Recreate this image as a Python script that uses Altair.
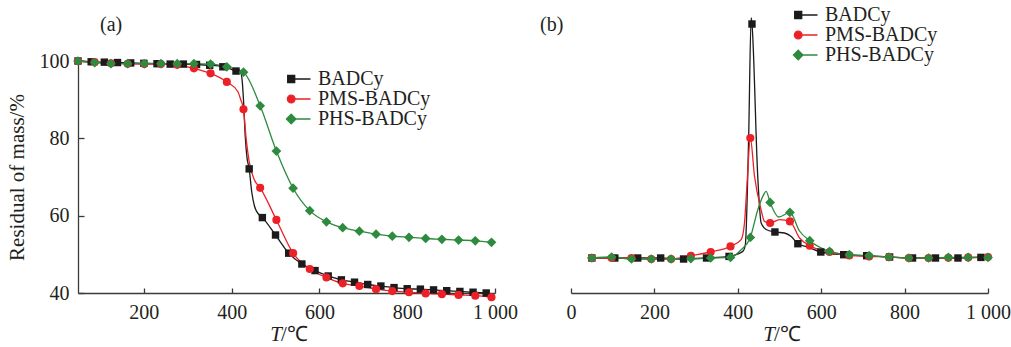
import altair as alt
import pandas as pd

SERIES = ["BADCy", "PMS-BADCy", "PHS-BADCy"]
COLORS = ["#1c1a1b", "#ec2127", "#2d8a3e"]
SHAPES = ["square", "circle", "diamond"]
SIZES = [55, 66, 95]
FONT = "Liberation Serif, Times New Roman, Times, serif"
TEXT = "#231f20"
AXIS = "#3a3a3a"

# ---------------- Panel (a): residual mass (%) vs T ----------------
a_bad_T = [50, 80, 110, 140, 170, 200, 230, 260, 290, 320, 350, 380, 410, 440, 470, 500,
           530, 560, 590, 620, 650, 680, 710, 740, 770, 800, 830, 860, 890, 920, 950, 980]
a_bad_v = [100.0, 99.8, 99.7, 99.6, 99.5, 99.4, 99.3, 99.2, 99.2, 99.1, 98.9, 98.5, 97.4, 72.1, 59.5, 55.0,
           50.3, 47.5, 45.8, 44.4, 43.4, 42.8, 42.2, 41.8, 41.4, 41.1, 41.0, 40.8, 40.6, 40.4, 40.2, 40.0]
a_bad_line_T = [421, 424, 427, 431, 435, 446, 452, 462]
a_bad_line_v = [96.8, 95.0, 90.0, 80.5, 75.0, 66.0, 62.5, 60.3]

a_T = [50, 88, 125, 163, 201, 239, 276, 314, 352, 389, 427, 465, 502,
       540, 578, 616, 653, 691, 729, 766, 804, 842, 879, 917, 955, 992]
a_pms_v = [100.0, 99.7, 99.4, 99.3, 99.2, 99.2, 99.0, 98.1, 96.8, 94.6, 87.5, 67.2, 58.9,
           50.3, 46.2, 44.0, 42.5, 41.8, 41.0, 40.5, 40.2, 39.9, 39.7, 39.5, 39.3, 38.9]
a_pms_line_T = [414, 421, 433, 440, 452]
a_pms_line_v = [92.1, 89.9, 80.0, 74.0, 69.2]
a_phs_v = [100.0, 99.6, 99.3, 99.3, 99.3, 99.3, 99.3, 99.3, 99.2, 98.5, 97.1, 88.4, 76.7,
           67.1, 61.3, 58.4, 56.9, 56.0, 55.2, 54.7, 54.4, 54.1, 53.9, 53.7, 53.5, 53.1]

# ---------------- Panel (b): DTG (arbitrary units) vs T ----------------
b_bad_T = [50, 105, 160, 215, 270, 325, 379, 434, 489, 544, 599, 654, 709, 764, 819, 874, 928, 983]
b_bad_v = [0, 0, 0, 0, -0.1, 0, 0.16, 23.4, 2.6, 1.43, 0.6, 0.33, 0.23, 0.1, 0, 0, 0, 0.06]
b_bad_line_T = [412, 418, 426, 432, 448, 456, 468, 512, 528, 568]
b_bad_line_v = [0.66, 1.3, 12.0, 24.0, 8.0, 3.5, 2.85, 2.5, 2.15, 1.1]

b_T = [50, 97.5, 145, 192.5, 240, 287.5, 335, 382.5, 430, 477.5, 525,
       572.5, 620, 667.5, 715, 762.5, 810, 857.5, 905, 952.5, 1000]
b_pms_v = [0, 0, 0, -0.1, -0.1, 0.23, 0.6, 1.16, 12.0, 3.5, 3.66,
           1.23, 0.6, 0.26, 0.16, 0.1, 0, 0, 0.03, 0.06, 0.1]
b_pms_line_T = [408, 416, 423, 440, 456, 464, 500, 548]
b_pms_line_v = [1.83, 3.5, 8.0, 8.2, 4.8, 3.66, 3.83, 2.0]
b_phs_v = [0, 0.1, -0.1, -0.1, -0.1, -0.07, 0, 0.06, 2.06, 5.56, 4.56,
           1.73, 0.66, 0.33, 0.23, 0.1, 0, 0, 0.06, 0.06, 0.06]
b_phs_line_T = [408, 448, 460, 468, 498, 548]
b_phs_line_v = [0.83, 4.83, 6.16, 6.66, 4.1, 2.7]

# legend symbols: line with the series marker at its left end
LEG_PATHS = [
    "M-2.3,0L2.3,0M-2.26,-0.7L-0.86,-0.7L-0.86,0.7L-2.26,0.7Z",
    "M-2.3,0L2.3,0M-0.8,0A0.76,0.76 0 1,1 -2.32,0A0.76,0.76 0 1,1 -0.8,0Z",
    "M-2.3,0L2.3,0M-1.56,-0.95L-0.61,0L-1.56,0.95L-2.51,0Z",
]


def pick(values):
    return ("datum.value === '%s' ? '%s' : datum.value === '%s' ? '%s' : '%s'"
            % (SERIES[0], values[0], SERIES[1], values[1], values[2]))


def frame(T, v, s):
    return pd.DataFrame({"T": T, "v": v, "series": s})


def line_frame(markers_T, markers_v, extra_T, extra_v, s):
    df = pd.concat([frame(markers_T, markers_v, s), frame(extra_T, extra_v, s)])
    return df.sort_values("T").reset_index(drop=True)


def panel(series_markers, series_lines, xdom, xvals, ydom, ytitle, label, label_x,
          legend_x, legend_y, show_y):
    xenc = alt.X("T:Q", scale=alt.Scale(domain=xdom, nice=False, zero=False),
                 axis=alt.Axis(values=xvals, title=None, grid=False,
                               labelExpr="datum.value >= 1000 ? '1 000' : format(datum.value, 'd')",
                               tickSize=alt.ExprRef(expr="-5"), labelPadding=14,
                               labelFlush=False))
    if show_y:
        yaxis = alt.Axis(values=[40, 60, 80, 100], title=ytitle, grid=False,
                         tickSize=alt.ExprRef(expr="-6"), labelPadding=15,
                         titlePadding=12, titleFont=FONT, titleFontSize=21,
                         titleFontWeight="normal", titleColor=TEXT)
    else:
        yaxis = None
    yenc = alt.Y("v:Q", scale=alt.Scale(domain=ydom, nice=False, zero=False), axis=yaxis)

    leg = alt.Legend(
        title=None, orient="none", legendX=legend_x, legendY=legend_y,
        labelFont=FONT, labelFontSize=20, labelColor=TEXT, symbolSize=100,
        symbolStrokeWidth=1.3, rowPadding=0, labelOffset=9, padding=0,
        symbolType=alt.ExprRef(expr=pick(LEG_PATHS)),
        symbolFillColor=alt.ExprRef(expr=pick(COLORS)),
        symbolStrokeColor=alt.ExprRef(expr=pick(COLORS)),
        symbolOpacity=1)

    lines = pd.concat(series_lines)
    layers = [
        alt.Chart(lines).mark_line(interpolate="monotone", strokeWidth=1.3).encode(
            x=xenc, y=yenc,
            color=alt.Color("series:N", scale=alt.Scale(domain=SERIES, range=COLORS), legend=leg),
            detail="series:N")
    ]
    for i, s in enumerate(SERIES):
        layers.append(
            alt.Chart(series_markers[i]).mark_point(filled=True, shape=SHAPES[i], size=SIZES[i],
                                                     color=COLORS[i], opacity=1).encode(x=xenc, y=yenc))
    # panel label
    layers.append(alt.Chart(pd.DataFrame({"t": [label]})).mark_text(
        font=FONT, fontSize=20, align="left", baseline="alphabetic", color=TEXT
    ).encode(x=alt.value(label_x), y=alt.value(-30), text="t:N"))
    # x-axis title "T/℃" with italic T
    layers.append(alt.Chart(pd.DataFrame({"t": ["T"]})).mark_text(
        font=FONT, fontSize=21, fontStyle="italic", align="right", baseline="alphabetic",
        color=TEXT).encode(x=alt.value(204), y=alt.value(280), text="t:N"))
    layers.append(alt.Chart(pd.DataFrame({"t": ["/℃"]})).mark_text(
        font=FONT, fontSize=21, align="left", baseline="alphabetic",
        color=TEXT).encode(x=alt.value(203), y=alt.value(280), text="t:N"))
    return alt.layer(*layers).properties(width=417, height=232)


pa = panel(
    [frame(a_bad_T, a_bad_v, SERIES[0]), frame(a_T, a_pms_v, SERIES[1]), frame(a_T, a_phs_v, SERIES[2])],
    [line_frame(a_bad_T, a_bad_v, a_bad_line_T, a_bad_line_v, SERIES[0]),
     line_frame(a_T, a_pms_v, a_pms_line_T, a_pms_line_v, SERIES[1]),
     frame(a_T, a_phs_v, SERIES[2])],
    [50, 1000], [200, 400, 600, 800, 1000], [40, 100], "Residual of mass/%", "(a)", 22,
    211, 8, True)

pb = panel(
    [frame(b_bad_T, b_bad_v, SERIES[0]), frame(b_T, b_pms_v, SERIES[1]), frame(b_T, b_phs_v, SERIES[2])],
    [line_frame(b_bad_T, b_bad_v, b_bad_line_T, b_bad_line_v, SERIES[0]),
     line_frame(b_T, b_pms_v, b_pms_line_T, b_pms_line_v, SERIES[1]),
     line_frame(b_T, b_phs_v, b_phs_line_T, b_phs_line_v, SERIES[2])],
    [0, 1000], [0, 200, 400, 600, 800, 1000], [-3.5, 19.7], None, "(b)", -31,
    225, -56, False)

chart = alt.hconcat(pa, pb, spacing=76, bounds="flush").resolve_scale(
    color="independent", x="independent", y="independent"
).resolve_legend(color="independent").properties(
    padding={"left": 6, "top": 5, "right": 0, "bottom": 0}
).configure_view(stroke=None).configure_axis(
    domainColor=AXIS, domainWidth=1.3, tickColor=AXIS, tickWidth=1.3,
    labelFont=FONT, labelFontSize=20, labelColor=TEXT
)

chart.save("out.html", embed_options={"renderer": "svg", "actions": False})
